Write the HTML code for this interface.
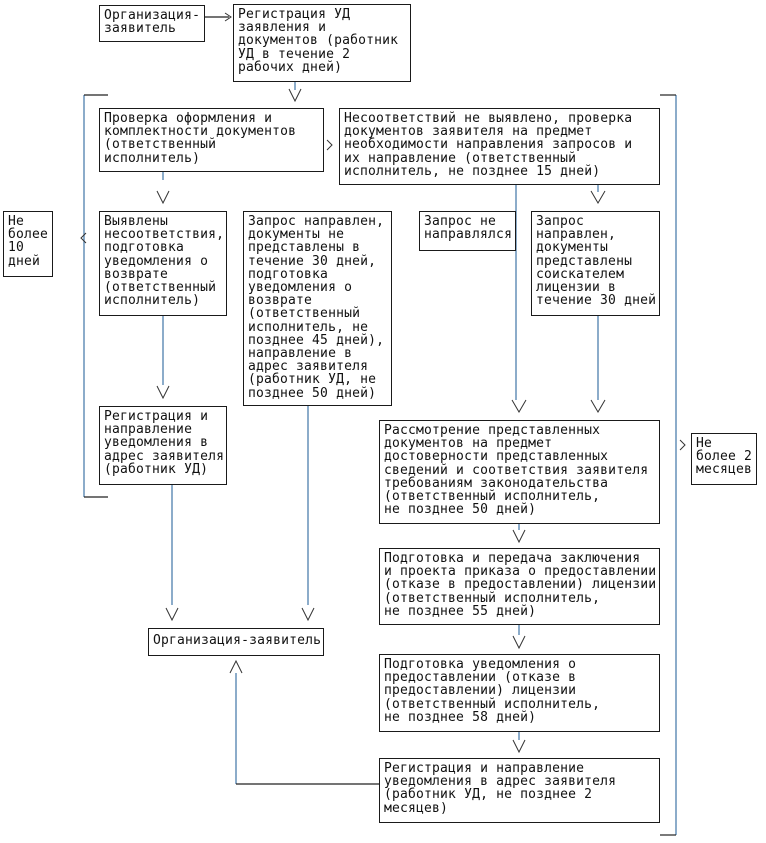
<!DOCTYPE html>
<html><head><meta charset="utf-8"><style>
html,body{margin:0;padding:0;background:#fff;}
body{width:766px;height:843px;position:relative;overflow:hidden;}
.b{position:absolute;border:1px solid #1a1a1a;box-sizing:border-box;padding:3px 0 0 4px;font-family:"DejaVu Sans Mono","Liberation Mono",monospace;font-size:13px;letter-spacing:0.18px;line-height:13.2px;color:#111;white-space:pre;}
svg{position:absolute;left:0;top:0;}
</style></head><body>
<svg width="766" height="843">
<g stroke="#4f7fae" stroke-width="1.3" fill="none">
<line x1="295" y1="82" x2="295" y2="90"/>
<line x1="163" y1="172" x2="163" y2="180"/>
<line x1="598" y1="185" x2="598" y2="192"/>
<line x1="516" y1="185" x2="516" y2="400"/>
<line x1="598" y1="316" x2="598" y2="400"/>
<line x1="163" y1="316" x2="163" y2="385"/>
<line x1="172" y1="485" x2="172" y2="605"/>
<line x1="308" y1="406" x2="308" y2="605"/>
<line x1="519" y1="523" x2="519" y2="530"/>
<line x1="519" y1="625" x2="519" y2="635"/>
<line x1="519" y1="732" x2="519" y2="740"/>
<line x1="236" y1="784" x2="236" y2="673"/>
<line x1="84" y1="95" x2="84" y2="497"/>
<line x1="676" y1="95" x2="676" y2="835"/>
</g>
<g stroke="#222" stroke-width="1.2" fill="none">
<line x1="205" y1="17" x2="229" y2="17"/>
<line x1="236" y1="784" x2="379" y2="784"/>
<line x1="84" y1="95" x2="108" y2="95"/>
<line x1="84" y1="497" x2="108" y2="497"/>
<line x1="660" y1="95" x2="676" y2="95"/>
<line x1="660" y1="835" x2="676" y2="835"/>
</g>
<g stroke="#333" stroke-width="1" fill="none">
<polyline points="225,13 231,17 225,21"/>
<polyline points="289,89 295,101 301,89"/>
<polyline points="157,191 163,203 169,191"/>
<polyline points="591,191 598,203 605,191"/>
<polyline points="512,400 519,412 526,400"/>
<polyline points="591,400 598,412 605,400"/>
<polyline points="157,386 163,398 169,386"/>
<polyline points="166,608 172,620 178,608"/>
<polyline points="302,608 308,620 314,608"/>
<polyline points="513,530 519,542 525,530"/>
<polyline points="513,636 519,648 525,636"/>
<polyline points="513,740 519,752 525,740"/>
<polyline points="230,673 236,661 242,673"/>
<polyline points="327,140 332,145 327,150"/>
<polyline points="86,233 81,238 86,243"/>
<polyline points="680,440 685,445 680,450"/>
</g>
</svg>
<div class="b" style="left:99px;top:5px;width:106px;height:37px;">Организация-
заявитель</div>
<div class="b" style="left:233px;top:4px;width:178px;height:78px;">Регистрация УД
заявления и
документов (работник
УД в течение 2
рабочих дней)</div>
<div class="b" style="left:99px;top:108px;width:225px;height:64px;">Проверка оформления и
комплектности документов
(ответственный
исполнитель)</div>
<div class="b" style="left:339px;top:108px;width:321px;height:77px;">Несоответствий не выявлено, проверка
документов заявителя на предмет
необходимости направления запросов и
их направление (ответственный
исполнитель, не позднее 15 дней)</div>
<div class="b" style="left:99px;top:211px;width:128px;height:105px;">Выявлены
несоответствия,
подготовка
уведомления о
возврате
(ответственный
исполнитель)</div>
<div class="b" style="left:243px;top:211px;width:149px;height:195px;">Запрос направлен,
документы не
представлены в
течение 30 дней,
подготовка
уведомления о
возврате
(ответственный
исполнитель, не
позднее 45 дней),
направление в
адрес заявителя
(работник УД, не
позднее 50 дней)</div>
<div class="b" style="left:419px;top:211px;width:97px;height:40px;">Запрос не
направлялся</div>
<div class="b" style="left:531px;top:211px;width:129px;height:105px;">Запрос
направлен,
документы
представлены
соискателем
лицензии в
течение 30 дней</div>
<div class="b" style="left:99px;top:406px;width:128px;height:79px;">Регистрация и
направление
уведомления в
адрес заявителя
(работник УД)</div>
<div class="b" style="left:379px;top:420px;width:281px;height:104px;">Рассмотрение представленных
документов на предмет
достоверности представленных
сведений и соответствия заявителя
требованиям законодательства
(ответственный исполнитель,
не позднее 50 дней)</div>
<div class="b" style="left:379px;top:548px;width:281px;height:77px;">Подготовка и передача заключения
и проекта приказа о предоставлении
(отказе в предоставлении) лицензии
(ответственный исполнитель,
не позднее 55 дней)</div>
<div class="b" style="left:379px;top:654px;width:281px;height:78px;">Подготовка уведомления о
предоставлении (отказе в
предоставлении) лицензии
(ответственный исполнитель,
не позднее 58 дней)</div>
<div class="b" style="left:379px;top:758px;width:281px;height:65px;">Регистрация и направление
уведомления в адрес заявителя
(работник УД, не позднее 2
месяцев)</div>
<div class="b" style="left:148px;top:628px;width:176px;height:28px;padding-top:5px;">Организация-заявитель</div>
<div class="b" style="left:3px;top:211px;width:50px;height:66px;">Не
более
10
дней</div>
<div class="b" style="left:691px;top:433px;width:66px;height:52px;">Не
более 2
месяцев</div>
</body></html>
